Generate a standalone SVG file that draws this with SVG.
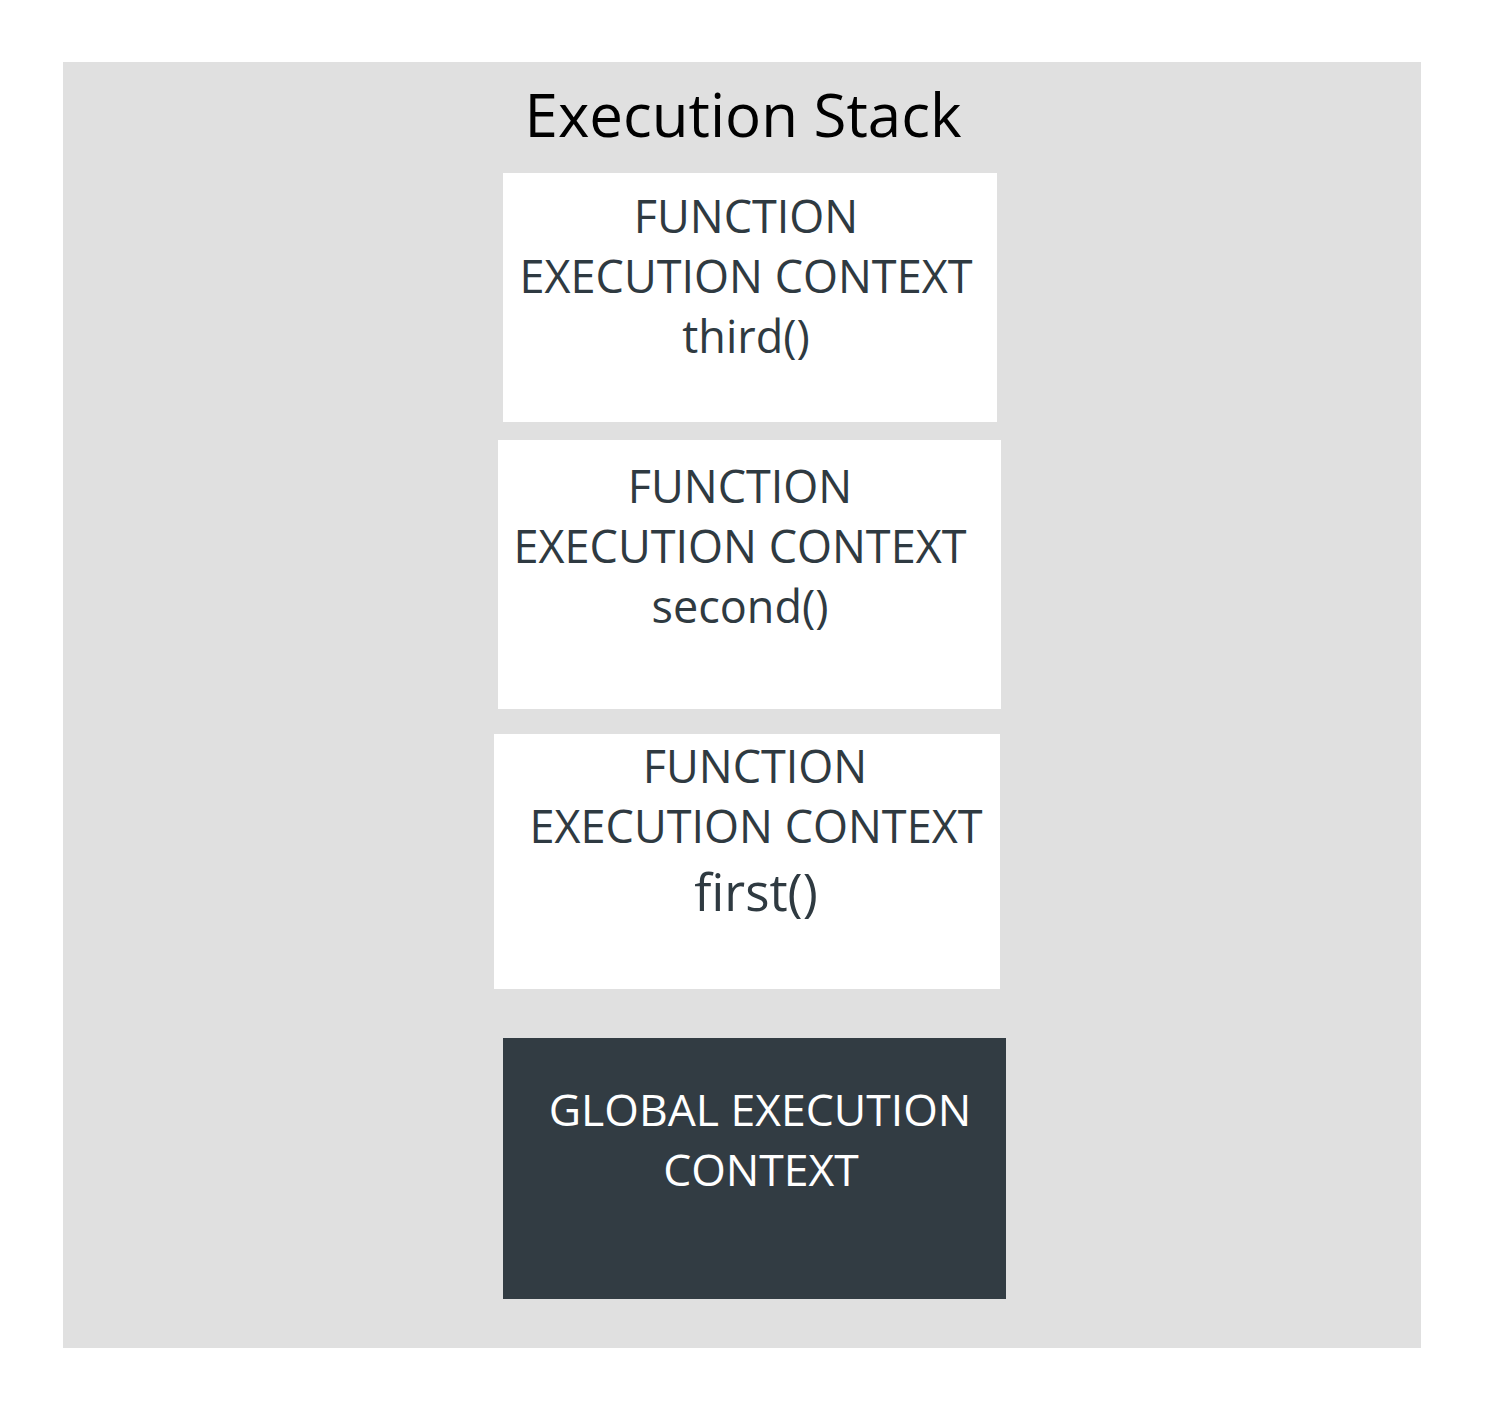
<svg xmlns="http://www.w3.org/2000/svg" width="1500" height="1417" viewBox="0 0 1500 1417">
<style>
.t{font-family:"Open Sans","Liberation Sans",sans-serif;text-anchor:middle}
.f{font-size:45px;fill:#2f3a41}
.g{font-size:44.5px;fill:#ffffff}
.title{font-size:60px;fill:#000000}
.box{fill:#ffffff}
</style>
<rect x="0" y="0" width="1500" height="1417" fill="#ffffff"/>
<rect id="stack" x="63" y="62" width="1358" height="1286" fill="#e0e0e0"/>
<text class="t title" x="743" y="137">Execution Stack</text>
<g id="third">
<rect class="box" x="503" y="173" width="494" height="249"/>
<text class="t f" x="746" y="233">FUNCTION</text>
<text class="t f" x="746" y="293">EXECUTION CONTEXT</text>
<text class="t f" x="746" y="353">third()</text>
</g>
<g id="second">
<rect class="box" x="498" y="440" width="503" height="269"/>
<text class="t f" x="740" y="503">FUNCTION</text>
<text class="t f" x="740" y="563">EXECUTION CONTEXT</text>
<text class="t f" x="740" y="623">second()</text>
</g>
<g id="first">
<rect class="box" x="494" y="734" width="506" height="255"/>
<text class="t f" x="755" y="783">FUNCTION</text>
<text class="t f" x="756" y="843">EXECUTION CONTEXT</text>
<text class="t f" x="756" y="911" style="font-size:51px">first()</text>
</g>
<g id="global">
<rect x="503" y="1038" width="503" height="261" fill="#323c43"/>
<text class="t g" x="760" y="1126">GLOBAL EXECUTION</text>
<text class="t g" x="761" y="1186">CONTEXT</text>
</g>
<g id="connectors"></g>
</svg>
